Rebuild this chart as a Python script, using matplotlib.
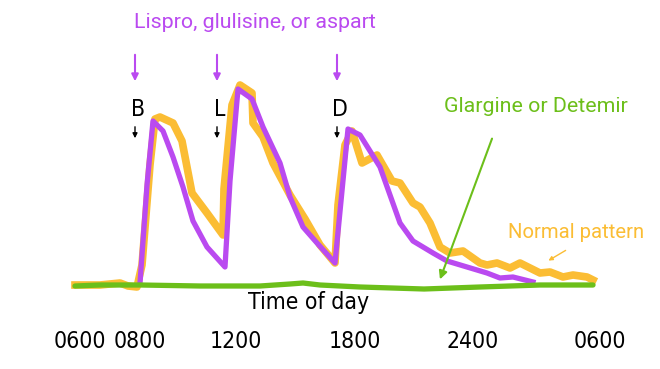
import matplotlib.pyplot as plt

# posiciones a lo largo del eje del tiempo (unidades del dibujo) y nivel de insulina
normal_x = [75, 100, 120, 128, 137, 142, 150, 155, 160, 173, 182, 192, 207, 223,
            224, 232, 240, 252, 253, 263, 273, 290, 305, 320, 335,
            338, 345, 352, 362, 377, 392, 400, 413, 420, 430, 440, 450, 463,
            480, 487, 497, 510, 520, 540, 550, 563, 573, 587, 593]
normal_y = [0, 0, 1, -0.5, -1, 10, 60, 83, 84, 81, 72, 46, 36, 25,
            48, 90, 100, 96, 81, 74, 61, 45, 33, 20, 11,
            40, 70, 77, 61, 65, 52, 51, 41, 39, 31, 19, 16, 17,
            11, 10, 11, 8.5, 11, 6, 6.5, 4, 5, 4, 2.5]

rapid_x = [140, 147, 153, 163, 173, 183, 193, 207, 225, 230, 238, 252, 263, 280,
           290, 303, 317, 335, 348, 360, 380, 400, 413, 433, 447, 467, 487,
           500, 513, 533]
rapid_y = [1, 50, 82, 77, 64, 49, 32, 19, 9, 52, 98, 93, 79, 61,
           44, 29, 21, 11, 78, 75, 59, 31, 22, 16, 12, 9, 6,
           3.5, 4, 1.5]

basal_x = [75, 100, 140, 200, 260, 290, 303, 320, 360, 424, 480, 540, 593]
basal_y = [-0.5, 0, 0, -0.5, -0.5, 0.5, 1, 0, -1, -2, -1, 0, 0]

tick_pos = [80, 140, 236, 355, 473, 600]
tick_labels = ['0600', '0800', '1200', '1800', '2400', '0600']

meal_x = [135, 217, 337]
meal_labels = ['B', 'L', 'D']

purple = '#ba4af0'
yellow = '#fbbd34'
green = '#6cbf1a'


def px(y):
    # convierte una altura en pixeles de la imagen a nivel del eje
    return (285 - y) / 2


def main():
    plt.rcParams['font.family'] = ['Roboto', 'DejaVu Sans']
    fig = plt.figure(figsize=(6.6, 3.69), dpi=100)
    ax = fig.add_axes([0, 0, 1, 1])
    ax.set_xlim(0, 660)
    ax.set_ylim(px(369), px(0))
    ax.axis('off')

    ax.plot(normal_x, normal_y, color=yellow, lw=5.5, solid_joinstyle='round', zorder=2)
    ax.plot(rapid_x, rapid_y, color=purple, lw=3.8, solid_joinstyle='round', zorder=3)
    ax.plot(basal_x, basal_y, color=green, lw=3.8, solid_capstyle='round', zorder=4)

    narrow = dict(family='DejaVu Sans', fontstretch='condensed', fontsize=16.5)
    for p, t in zip(tick_pos, tick_labels):
        ax.text(p, px(341), t, ha='center', va='center', **narrow)
    ax.text(309, px(302), 'Time of day', ha='center', va='center', **narrow)

    ax.text(255, px(23), 'Lispro, glulisine, or aspart', ha='center', va='center',
            fontsize=15.4, color=purple)
    for m, lab in zip(meal_x, meal_labels):
        ax.annotate('', xy=(m, px(84)), xytext=(m, px(52)),
                    arrowprops=dict(arrowstyle='-|>', color=purple, lw=1.5, mutation_scale=10))
        ax.text(m + 3, px(110), lab, ha='center', va='center', **narrow)
        ax.annotate('', xy=(m, px(141)), xytext=(m, px(124)),
                    arrowprops=dict(arrowstyle='-|>', color='black', lw=1, mutation_scale=7))

    ax.text(536, px(107), 'Glargine or Detemir', ha='center', va='center',
            fontsize=15.4, color=green)
    ax.annotate('', xy=(439, px(282)), xytext=(493, px(136)),
                arrowprops=dict(arrowstyle='-|>', color=green, lw=1.5, mutation_scale=12))

    ax.text(576, px(232), 'Normal pattern', ha='center', va='center',
            fontsize=14.6, color=yellow)
    ax.annotate('', xy=(546, px(262)), xytext=(568, px(249)),
                arrowprops=dict(arrowstyle='-|>', color=yellow, lw=1, mutation_scale=6))

    fig.savefig('out.png', dpi=100)


if __name__ == '__main__':
    main()
